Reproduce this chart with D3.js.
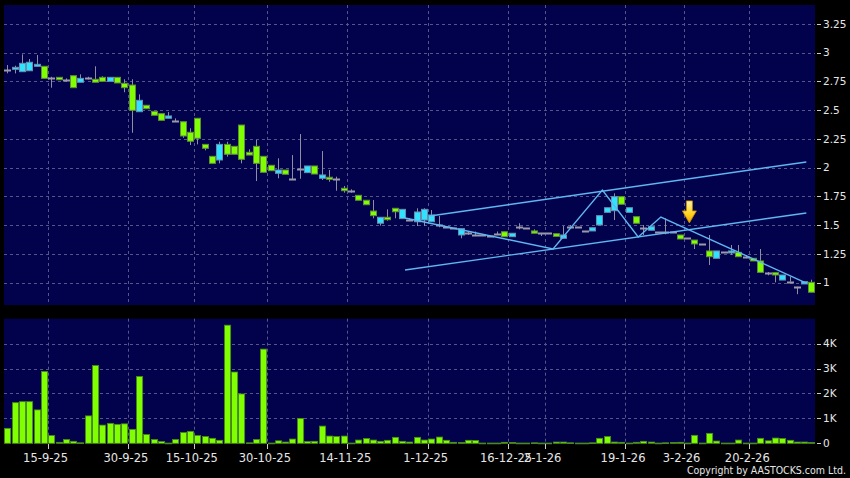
<!DOCTYPE html>
<html>
<head>
<meta charset="utf-8">
<script src="https://cdn.jsdelivr.net/npm/d3@7"></script>
<style>
  body { margin: 0; background: #000; }
  svg { display: block; }
</style>
</head>
<body>
<svg id="chart"></svg>
<script>
// daily candles, oldest first (price in HKD, volume in shares)
var opens  = [2.850,2.856,2.835,2.843,2.882,2.882,2.777,2.786,2.760,2.800,
              2.743,2.777,2.769,2.786,2.751,2.786,2.734,2.719,2.487,2.543,
              2.490,2.470,2.430,2.409,2.400,2.308,2.430,2.203,2.099,2.067,
              2.203,2.186,2.371,2.134,2.186,2.099,2.021,1.951,1.980,1.902,
              1.989,1.957,2.015,1.908,1.917,1.899,1.821,1.800,1.760,1.717,
              1.623,1.517,1.569,1.647,1.557,1.545,1.530,1.545,1.530,1.502,
              1.487,1.478,1.415,1.430,1.415,1.415,1.406,1.423,1.443,1.400,
              1.482,1.473,1.450,1.430,1.430,1.426,1.386,1.487,1.480,1.450,
              1.450,1.502,1.612,1.626,1.748,1.612,1.574,1.473,1.456,1.440,
              1.438,1.438,1.415,1.386,1.371,1.337,1.276,1.212,1.270,1.264,
              1.264,1.221,1.212,1.189,1.087,1.087,1.023,1.009,0.965,0.989,
              1.003];
var highs  = [2.893,2.887,2.986,2.945,2.980,2.882,2.791,2.786,2.777,2.800,
              2.812,2.791,2.882,2.795,2.786,2.786,2.769,2.769,2.638,2.543,
              2.490,2.470,2.484,2.429,2.400,2.343,2.430,2.203,2.099,2.226,
              2.226,2.186,2.371,2.160,2.241,2.099,2.021,2.082,1.980,2.110,
              2.293,2.015,2.015,2.145,1.980,1.922,1.841,1.812,1.760,1.717,
              1.719,1.569,1.638,1.647,1.638,1.560,1.647,1.647,1.632,1.580,
              1.487,1.478,1.470,1.445,1.445,1.415,1.406,1.445,1.443,1.430,
              1.517,1.473,1.464,1.430,1.430,1.426,1.493,1.502,1.480,1.450,
              1.478,1.583,1.652,1.777,1.748,1.652,1.574,1.502,1.487,1.440,
              1.560,1.438,1.415,1.386,1.371,1.337,1.415,1.276,1.270,1.328,
              1.328,1.241,1.212,1.293,1.093,1.087,1.067,1.052,0.965,1.009,
              1.026];
var lows   = [2.821,2.820,2.835,2.843,2.882,2.777,2.696,2.765,2.748,2.696,
              2.743,2.768,2.743,2.751,2.751,2.737,2.656,2.304,2.487,2.513,
              2.456,2.412,2.430,2.400,2.260,2.197,2.203,2.151,2.038,2.038,
              2.096,2.117,2.038,2.110,1.884,1.960,1.974,1.908,1.943,1.893,
              1.904,1.957,1.945,1.893,1.878,1.800,1.783,1.783,1.717,1.678,
              1.560,1.496,1.539,1.560,1.557,1.536,1.493,1.493,1.530,1.482,
              1.487,1.478,1.386,1.416,1.406,1.415,1.406,1.423,1.400,1.400,
              1.464,1.473,1.430,1.406,1.430,1.403,1.386,1.487,1.480,1.450,
              1.450,1.502,1.612,1.545,1.682,1.612,1.517,1.415,1.456,1.440,
              1.421,1.438,1.380,1.386,1.293,1.337,1.154,1.212,1.270,1.241,
              1.226,1.212,1.189,1.090,1.064,1.003,1.023,1.009,0.900,0.989,
              0.917];
var closes = [2.850,2.873,2.908,2.917,2.899,2.777,2.777,2.765,2.760,2.696,
              2.777,2.777,2.743,2.751,2.786,2.737,2.696,2.499,2.586,2.513,
              2.456,2.412,2.450,2.409,2.276,2.230,2.256,2.169,2.038,2.203,
              2.117,2.117,2.073,2.110,2.038,1.960,1.974,1.980,1.943,1.902,
              1.989,2.015,1.945,1.937,1.899,1.899,1.800,1.800,1.717,1.678,
              1.583,1.569,1.548,1.617,1.638,1.545,1.615,1.638,1.589,1.502,
              1.487,1.478,1.470,1.430,1.415,1.415,1.406,1.423,1.400,1.430,
              1.482,1.473,1.430,1.430,1.430,1.403,1.415,1.487,1.480,1.450,
              1.478,1.583,1.652,1.748,1.682,1.652,1.517,1.473,1.487,1.440,
              1.438,1.438,1.380,1.386,1.337,1.337,1.226,1.276,1.270,1.276,
              1.226,1.221,1.189,1.090,1.087,1.067,1.067,1.009,0.965,1.009,
              0.917];
var volumes = [600,1630,1670,1670,1340,2880,310,40,150,80,
               20,1100,3120,730,800,760,780,560,2680,350,
               150,70,10,150,430,480,310,270,200,120,
               4740,2860,1980,20,150,3780,10,100,50,170,
               1000,70,80,690,290,270,290,10,130,190,
               130,80,120,240,80,50,240,130,170,250,
               120,40,30,120,110,10,10,10,40,30,
               10,10,20,10,10,50,50,20,10,10,
               20,200,270,50,40,10,40,80,50,10,
               20,30,40,10,320,10,400,90,10,10,
               130,10,10,200,100,210,190,120,50,50,
               30];

var tickIdx    = [5, 16, 25, 35, 46, 57, 68, 73, 84, 92, 101];
var tickLabels = ["15-9-25","30-9-25","15-10-25","30-10-25","14-11-25","1-12-25",
                  "16-12-25","2-1-26","19-1-26","3-2-26","20-2-26"];
var priceTicks = [1, 1.25, 1.5, 1.75, 2, 2.25, 2.5, 2.75, 3, 3.25];
var volTicks   = [0, 1000, 2000, 3000, 4000];
var volLabels  = ["0", "1K", "2K", "3K", "4K"];

// drawn annotations (bar index, price)
var channelUpper = [{i: 57.8, p: 1.58}, {i: 109.3, p: 2.05}];
var channelLower = [{i: 54.4, p: 1.11}, {i: 109.3, p: 1.606}];
var zigzag = [{i: 54.4, p: 1.563}, {i: 74.65, p: 1.293}, {i: 81.4, p: 1.806},
              {i: 86.3, p: 1.397}, {i: 89.4, p: 1.571}, {i: 109.3, p: 0.997}];
var arrowAt = {i: 93.3, p: 1.52};

var W = 850, H = 478;
var n = closes.length;
var svg = d3.select("#chart").attr("width", W).attr("height", H);

svg.append("rect").attr("width", W).attr("height", H).attr("fill", "#000");

var plotL = 4, plotR = 815;
var x = d3.scaleLinear().domain([-0.5, n - 0.5]).range([3.7, 815.1]);
var y = d3.scaleLinear().domain([0.806, 3.415]).range([305, 5]);
var yv = d3.scaleLinear().domain([0, 5000]).range([443.3, 318.7]);
var step = x(1) - x(0);

var bg = "#02024c", gridCol = "#55558a", txtCol = "#e6e6e6";

// panels
svg.append("rect").attr("x", plotL).attr("y", 5).attr("width", plotR - plotL).attr("height", 300).attr("fill", bg);
svg.append("rect").attr("x", plotL).attr("y", yv(5000)).attr("width", plotR - plotL).attr("height", yv(0) - yv(5000)).attr("fill", bg);

var grid = svg.append("g").attr("stroke", gridCol).attr("stroke-width", 1).attr("stroke-dasharray", "3,3");
grid.selectAll(".hp").data(priceTicks).join("line")
  .attr("x1", plotL).attr("x2", plotR)
  .attr("y1", d => Math.round(y(d)) + 0.5).attr("y2", d => Math.round(y(d)) + 0.5);
grid.selectAll(".hv").data(volTicks.slice(1)).join("line")
  .attr("x1", plotL).attr("x2", plotR)
  .attr("y1", d => Math.round(yv(d)) + 0.5).attr("y2", d => Math.round(yv(d)) + 0.5);
var tickX = d => Math.round(x(d + 0.5)) + 0.5;
grid.selectAll(".vp").data(tickIdx).join("line")
  .attr("x1", tickX).attr("x2", tickX).attr("y1", 5).attr("y2", 305);
grid.selectAll(".vv").data(tickIdx).join("line")
  .attr("x1", tickX).attr("x2", tickX).attr("y1", yv(5000)).attr("y2", yv(0));

// candles
var bodyW = Math.round(step * 0.82);
var cx = i => Math.round(x(i)) + 0.5;
var candles = svg.append("g");
d3.range(n).forEach(function(i) {
  var o = opens[i], c = closes[i];
  candles.append("line")
    .attr("x1", cx(i)).attr("x2", cx(i))
    .attr("y1", y(highs[i])).attr("y2", y(lows[i]))
    .attr("stroke", "#8e8ea0").attr("stroke-width", 1);
  if (Math.abs(o - c) < 0.004) {
    candles.append("line")
      .attr("x1", cx(i) - bodyW / 2 - 0.5).attr("x2", cx(i) + bodyW / 2 + 0.5)
      .attr("y1", Math.round(y(c)) + 0.5).attr("y2", Math.round(y(c)) + 0.5)
      .attr("stroke", "#9a9aaa").attr("stroke-width", 2);
    return;
  }
  var up = c > o;
  var top = y(Math.max(o, c)), bot = y(Math.min(o, c));
  candles.append("rect")
    .attr("x", cx(i) - bodyW / 2).attr("y", top)
    .attr("width", bodyW).attr("height", Math.max(bot - top, 2))
    .attr("fill", up ? "#2fe3ff" : "#80ff00")
    .attr("stroke", up ? "#6a8cae" : "#5e8e3a").attr("stroke-width", 1);
});

// volume
svg.append("g").selectAll("rect").data(volumes).join("rect")
  .attr("x", (d, i) => cx(i) - step / 2 + 0.7)
  .attr("y", d => yv(d))
  .attr("width", step - 1.2)
  .attr("height", d => Math.max(yv(0) - yv(d), 0.8))
  .attr("fill", "#80ff00").attr("stroke", "#4a8a1a").attr("stroke-width", 0.8);

// trend lines
var line = d3.line().x(d => x(d.i)).y(d => y(d.p));
var tl = svg.append("g").attr("fill", "none").attr("stroke", "#5fb6f0").attr("stroke-width", 1.4);
[channelUpper, channelLower, zigzag].forEach(function(pts) {
  tl.append("path").attr("d", line(pts));
});

// arrow marker
var defs = svg.append("defs");
var gr = defs.append("linearGradient").attr("id", "arrowGrad").attr("x1", 0).attr("y1", 0).attr("x2", 0).attr("y2", 1);
gr.append("stop").attr("offset", "0%").attr("stop-color", "#fff4a8");
gr.append("stop").attr("offset", "60%").attr("stop-color", "#ffd21e");
gr.append("stop").attr("offset", "100%").attr("stop-color", "#f0a000");
var ax = x(arrowAt.i), ay = y(arrowAt.p);
svg.append("path")
  .attr("d", "M" + ax + "," + ay + " l-7,-12 l4,0 l0,-10 l6,0 l0,10 l4,0 z")
  .attr("fill", "url(#arrowGrad)").attr("stroke", "#c98a00").attr("stroke-width", 0.8);

// price axis
var ya = svg.append("g");
ya.selectAll("line").data(priceTicks).join("line")
  .attr("x1", 817).attr("x2", 821)
  .attr("y1", d => Math.round(y(d)) + 0.5).attr("y2", d => Math.round(y(d)) + 0.5)
  .attr("stroke", "#cccccc");
ya.selectAll("text").data(priceTicks).join("text")
  .attr("x", 823).attr("y", d => y(d)).attr("dy", "0.35em")
  .attr("fill", txtCol).attr("font-family", "DejaVu Sans").attr("font-size", "10.5px")
  .text(d => d3.format("~g")(d));

// volume axis
var va = svg.append("g");
va.selectAll("line").data(volTicks).join("line")
  .attr("x1", 817).attr("x2", 821)
  .attr("y1", d => Math.round(yv(d)) + 0.5).attr("y2", d => Math.round(yv(d)) + 0.5)
  .attr("stroke", "#cccccc");
va.selectAll("text").data(volTicks).join("text")
  .attr("x", 823).attr("y", d => yv(d)).attr("dy", "0.35em")
  .attr("fill", txtCol).attr("font-family", "DejaVu Sans").attr("font-size", "10.5px")
  .text((d, i) => volLabels[i]);

// date axis
var xa = svg.append("g");
xa.selectAll("line").data(tickIdx).join("line")
  .attr("x1", tickX).attr("x2", tickX).attr("y1", 444).attr("y2", 449)
  .attr("stroke", "#cccccc");
xa.selectAll("text").data(tickIdx).join("text")
  .attr("x", d => x(d + 0.5) - 2).attr("y", 462)
  .attr("text-anchor", "middle")
  .attr("fill", txtCol).attr("font-family", "DejaVu Sans").attr("font-size", "11.5px")
  .text((d, i) => tickLabels[i]);

svg.append("text")
  .attr("x", 846).attr("y", 474).attr("text-anchor", "end")
  .attr("fill", txtCol).attr("font-family", "DejaVu Sans").attr("font-size", "10px")
  .attr("textLength", 159).attr("lengthAdjust", "spacingAndGlyphs")
  .text("Copyright by AASTOCKS.com Ltd.");
</script>
</body>
</html>
